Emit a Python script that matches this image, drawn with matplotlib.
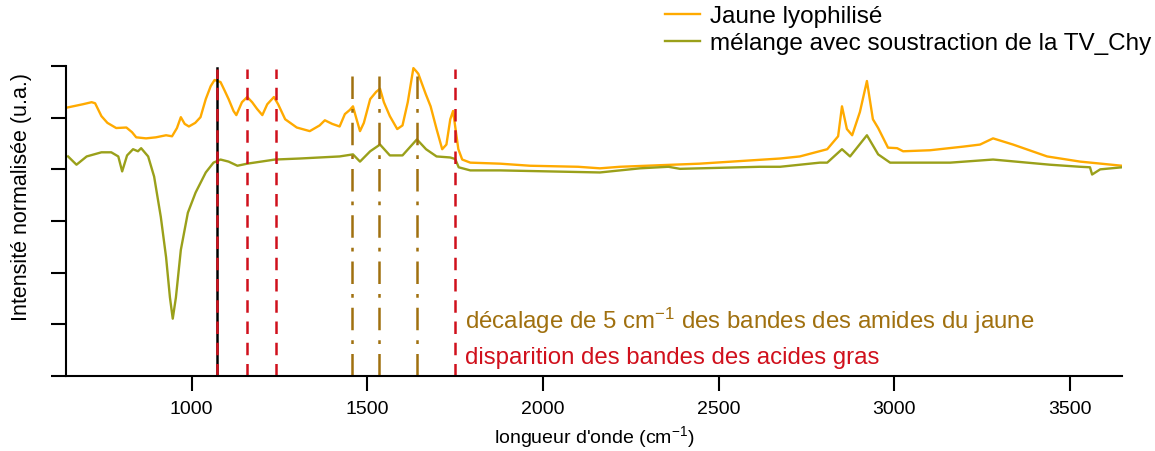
import numpy as np
import matplotlib
matplotlib.use("Agg")
import matplotlib.pyplot as plt

plt.rcParams['font.family'] = ['Liberation Sans', 'DejaVu Sans']
plt.rcParams['mathtext.fontset'] = 'custom'
plt.rcParams['mathtext.rm'] = 'Liberation Sans'
plt.rcParams['mathtext.it'] = 'Liberation Sans'

# spectre du jaune lyophilise
wn_jaune = [648, 690, 715, 725, 743, 760, 785, 814, 830, 842, 870, 898, 927, 944, 958,
            969, 980, 992, 1010, 1025, 1040, 1054, 1065, 1082, 1094, 1105, 1119, 1127,
            1143, 1158, 1172, 1186, 1201, 1215, 1234, 1246, 1266, 1299, 1336, 1364,
            1379, 1400, 1421, 1436, 1450, 1459, 1468, 1479, 1490, 1508, 1525, 1536,
            1547, 1564, 1585, 1600, 1615, 1631, 1639, 1645, 1666, 1680, 1697, 1713,
            1725, 1736, 1744, 1753, 1759, 1770, 1793, 1878, 1963, 2100, 2162, 2219,
            2445, 2675, 2731, 2809, 2840, 2851, 2865, 2880, 2902, 2922, 2939, 2954,
            2982, 3008, 3025, 3102, 3196, 3244, 3281, 3338, 3435, 3529, 3648]
i_jaune = [5.20, 5.26, 5.30, 5.28, 5.03, 4.90, 4.80, 4.81, 4.72, 4.62, 4.60, 4.62, 4.66, 4.64, 4.80,
           5.01, 4.88, 4.83, 4.90, 5.01, 5.36, 5.61, 5.73, 5.69, 5.52, 5.36, 5.13, 5.05,
           5.30, 5.40, 5.30, 5.17, 5.05, 5.26, 5.40, 5.26, 4.97, 4.81, 4.74, 4.85,
           4.95, 4.88, 4.83, 5.07, 5.15, 5.22, 5.00, 4.74, 4.90, 5.36, 5.50, 5.56,
           5.30, 5.03, 4.78, 4.85, 5.30, 5.96, 5.90, 5.85, 5.46, 5.22, 4.78, 4.39,
           4.48, 4.97, 5.13, 4.68, 4.39, 4.19, 4.13, 4.11, 4.07, 4.05, 4.02, 4.05,
           4.11, 4.21, 4.25, 4.39, 4.64, 5.22, 4.78, 4.66, 5.11, 5.71, 4.97, 4.80,
           4.42, 4.41, 4.35, 4.37, 4.44, 4.48, 4.60, 4.48, 4.25, 4.15, 4.07]

# melange avec soustraction de la TV_Chy
wn_melange = [648, 672, 701, 743, 771, 791, 802, 816, 833, 847, 856, 876, 893, 912,
              927, 938, 946, 955, 969, 989, 1011, 1040, 1062, 1082, 1105, 1130, 1158,
              1237, 1308, 1364, 1421, 1459, 1479, 1508, 1536, 1564, 1600, 1641, 1667,
              1697, 1736, 1750, 1760, 1793, 1878, 2020, 2162, 2276, 2357, 2390, 2617,
              2675, 2788, 2809, 2851, 2874, 2922, 2954, 2988, 3159, 3281, 3443, 3529,
              3557, 3563, 3586, 3648]
i_melange = [4.25, 4.09, 4.25, 4.33, 4.33, 4.25, 3.96, 4.27, 4.39, 4.35, 4.41, 4.25, 3.86, 3.08,
             2.30, 1.52, 1.11, 1.52, 2.44, 3.16, 3.55, 3.94, 4.13, 4.19, 4.15, 4.07, 4.11,
             4.19, 4.21, 4.23, 4.25, 4.29, 4.15, 4.35, 4.48, 4.27, 4.27, 4.58, 4.39,
             4.25, 4.23, 4.20, 4.04, 3.98, 3.98, 3.96, 3.94, 4.02, 4.05, 4.01, 4.05,
             4.05, 4.13, 4.13, 4.39, 4.25, 4.66, 4.29, 4.13, 4.13, 4.19, 4.09, 4.05,
             4.04, 3.90, 4.00, 4.04]

bandes_acides = [1072, 1157, 1240, 1749]
bandes_amides = [1456, 1533, 1641]
xticks = [1000, 1500, 2000, 2500, 3000, 3500]

c_jaune = '#FFAA00'
c_mel = '#9AA01A'
c_amide = '#A0700F'
c_rouge = '#D0101C'

fig = plt.figure(figsize=(11.55, 4.52), dpi=100)
ax = fig.add_axes([0.0571, 0.1659, 0.9143, 0.6858])

l1, = ax.plot(wn_jaune, i_jaune, color=c_jaune, lw=1.7, label='Jaune lyophilisé')
l2, = ax.plot(wn_melange, i_melange, color=c_mel, lw=1.7,
              label='mélange avec soustraction de la TV_Chy')

ax.axvline(bandes_acides[0], ymin=0, ymax=0.995, color='black', lw=1.8)
for b in bandes_acides:
    ax.axvline(b, ymin=0, ymax=0.99, color=c_rouge, lw=1.8, dashes=(5, 3.5))
for b in bandes_amides:
    ax.axvline(b, ymin=0, ymax=0.99, color=c_amide, lw=1.8, dashes=(9, 4, 1.5, 4))

ax.text(1778, 1.08, 'décalage de 5 cm$^{-1}$ des bandes des amides du jaune',
        color=c_amide, fontsize=17.3, va='center', ha='left')
ax.text(1778, 0.36, 'disparition des bandes des acides gras',
        color=c_rouge, fontsize=17.3, va='center', ha='left')

ax.set_xlim(642, 3648)
ax.set_ylim(0, 6)
ax.set_xticks(xticks)
ax.set_yticks(range(7))
ax.set_yticklabels([])
ax.spines['top'].set_visible(False)
ax.spines['right'].set_visible(False)
ax.spines['left'].set_linewidth(1.5)
ax.spines['bottom'].set_linewidth(1.5)
ax.tick_params(axis='both', direction='out', length=10.5, width=1.5, labelsize=14, pad=7)
ax.set_xlabel("longueur d'onde (cm$^{-1}$)", fontsize=14, labelpad=4)
ax.set_ylabel('Intensité normalisée (u.a.)', fontsize=15.5)
ax.yaxis.set_label_coords(-0.032, 0.58)

fig.legend(handles=[l1, l2], loc='upper left', bbox_to_anchor=(665 / 1155, 1 - 6 / 452),
           frameon=False, fontsize=17.5, handlelength=1.45, labelspacing=0.22,
           handletextpad=0.4, borderpad=0, borderaxespad=0)

fig.savefig('out.png', dpi=100)
